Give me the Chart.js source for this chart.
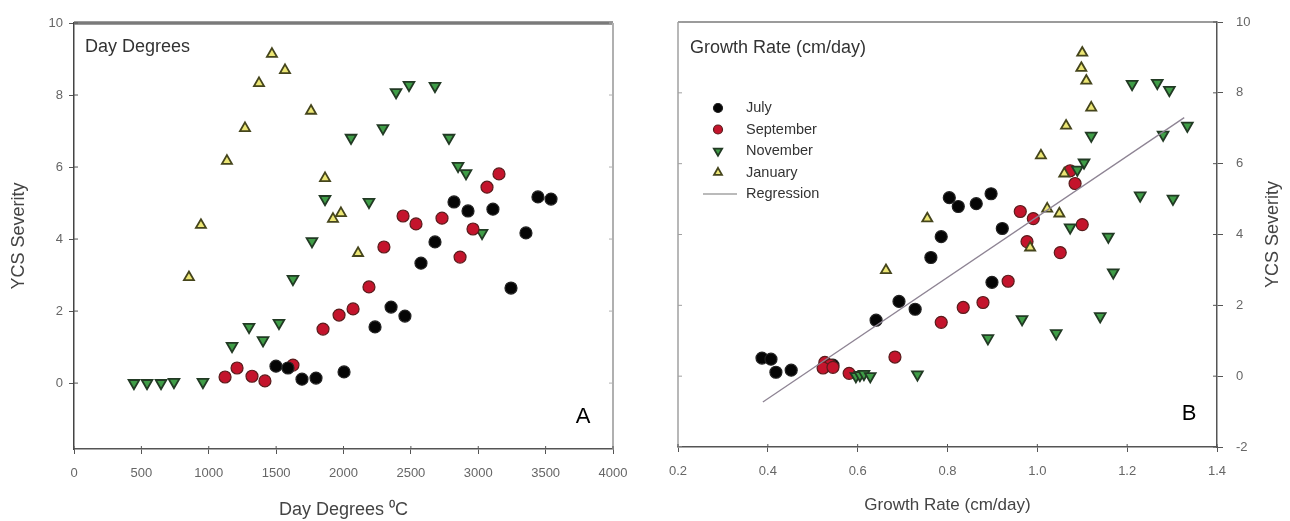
<!DOCTYPE html>
<html><head><meta charset="utf-8">
<script src="https://cdn.jsdelivr.net/npm/chart.js@4"></script>
<style>
html,body{margin:0;padding:0;background:#fff;}
#wrap{position:relative;width:1290px;height:521px;overflow:hidden;}
canvas{position:absolute;top:0;}
</style></head><body>
<div id="wrap">
<canvas id="cA" width="645" height="521" style="left:0;width:645px;height:521px"></canvas>
<canvas id="cB" width="645" height="521" style="left:645px;width:645px;height:521px"></canvas>
</div>
<script>
// ---------- Panel A: Day Degrees ----------
const julyDegrees   = [1499,1588,1692,1796,2004,2234,2353,2456,2575,2679,2820,2924,3109,3243,3354,3443,3540];
const julySevA      = [0.47,0.42,0.11,0.14,0.31,1.56,2.11,1.86,3.33,3.92,5.03,4.78,4.83,2.64,4.17,5.17,5.11];
const septDegrees   = [1121,1210,1321,1417,1625,1848,1967,2071,2189,2300,2442,2538,2731,2865,2961,3065,3154];
const septSevA      = [0.17,0.42,0.19,0.06,0.50,1.50,1.89,2.06,2.67,3.78,4.64,4.42,4.58,3.50,4.28,5.44,5.81];
const novDegrees    = [445,542,646,742,957,1173,1299,1403,1521,1625,1766,1863,2056,2189,2293,2390,2486,2679,2783,2850,2909,3028];
const novSevA       = [0,0,0,0.03,0.03,1.03,1.56,1.19,1.67,2.89,3.94,5.11,6.81,5.03,7.08,8.08,8.28,8.25,6.81,6.03,5.83,4.17];
const janDegrees    = [853,942,1135,1269,1373,1469,1566,1759,1863,1922,1981,2108];
const janSevA       = [2.94,4.39,6.17,7.08,8.33,9.14,8.69,7.56,5.69,4.56,4.72,3.61];

// ---------- Panel B: Growth Rate ----------
const julyRate      = [0.387,0.407,0.418,0.452,0.545,0.641,0.692,0.728,0.763,0.786,0.804,0.824,0.864,0.897,0.922,0.899];
const julySevB      = [0.51,0.48,0.11,0.17,0.31,1.58,2.11,1.89,3.35,3.94,5.04,4.79,4.87,5.15,4.17,2.65];
const septRate      = [0.527,0.539,0.523,0.545,0.581,0.683,0.786,0.835,0.879,0.935,0.977,0.962,0.991,1.051,1.100,1.084,1.073];
const septSevB      = [0.39,0.31,0.23,0.25,0.08,0.54,1.52,1.94,2.08,2.68,3.80,4.65,4.45,3.49,4.28,5.44,5.80];
const novRate       = [0.596,0.605,0.614,0.628,0.733,0.890,0.966,1.042,1.140,1.169,1.158,1.073,1.104,1.089,1.120,1.229,1.302,1.211,1.267,1.294,1.280,1.334];
const novSevB       = [0,0.03,0.06,0,0.05,1.07,1.61,1.21,1.69,2.93,3.94,4.20,6.03,5.83,6.79,5.10,5.01,8.25,8.28,8.08,6.82,7.07];
const janRate       = [0.663,0.755,0.984,1.022,1.049,1.060,1.008,1.064,1.120,1.109,1.098,1.100];
const janSevB       = [2.99,4.45,3.63,4.73,4.59,5.72,6.23,7.07,7.58,8.34,8.70,9.13];
const regRate       = [0.389,1.327];
const regSev        = [-0.73,7.30];

// ---------- ticks / labels ----------
const ticksXA = [0,500,1000,1500,2000,2500,3000,3500,4000];
const ticksYA = [0,2,4,6,8,10];
const ticksXB = [0.2,0.4,0.6,0.8,1.0,1.2,1.4];
const ticksYB = [-2,0,2,4,6,8,10];
const seriesNames = ['July','September','November','January','Regression'];

const FONT = "'Liberation Sans', Arial, sans-serif";
const STY = {
  July:      {bg:'#050505', bd:'#222222', ps:'circle',   r:6,   rot:0,   bw:1.2, lr:4.5},
  September: {bg:'#c4142c', bd:'#5a1c1c', ps:'circle',   r:6,   rot:0,   bw:1.2, lr:4.5},
  November:  {bg:'#3f9d47', bd:'#223a24', ps:'triangle', r:6.2, rot:180, bw:1.8, lr:4.8},
  January:   {bg:'#ece674', bd:'#45451c', ps:'triangle', r:5.8, rot:0,   bw:1.8, lr:4.6}
};
function pts(xs, ys){ return xs.map((x,i)=>({x:x, y:ys[i]})); }
function ds(name, xs, ys, order){
  const s = STY[name];
  return {label:name, data:pts(xs,ys), showLine:false, order:order,
    pointStyle:s.ps, pointRadius:s.r, pointHoverRadius:s.r, pointRotation:s.rot,
    backgroundColor:s.bg, borderColor:s.bd, pointBorderWidth:s.bw};
}
function setTicks(arr){ return function(sc){ sc.ticks = arr.map(v=>({value:v})); }; }

const framePlugin = {
  id:'frame',
  afterDraw(chart, args, o){
    const ctx = chart.ctx, a = chart.chartArea;
    const xs = chart.scales.x, ys = chart.scales.y;
    ctx.save();
    ctx.strokeStyle = o.topColor; ctx.lineWidth = o.topWidth;
    ctx.beginPath(); ctx.moveTo(a.left, a.top); ctx.lineTo(a.right, a.top); ctx.stroke();
    ctx.strokeStyle = o.sideColor; ctx.lineWidth = o.sideWidth;
    const sx = o.side === 'right' ? a.right : a.left;
    ctx.beginPath(); ctx.moveTo(sx, a.top); ctx.lineTo(sx, a.bottom); ctx.stroke();
    ctx.lineWidth = 1; ctx.strokeStyle = o.sideColor;
    ys.ticks.forEach(t=>{
      const py = ys.getPixelForValue(t.value);
      const d = o.side === 'right' ? -4 : 4;
      ctx.beginPath(); ctx.moveTo(sx, py); ctx.lineTo(sx + d, py); ctx.stroke();
    });
    ctx.strokeStyle = '#555';
    const ax = o.side === 'right' ? a.left : a.right;
    ys.ticks.forEach(t=>{
      const py = ys.getPixelForValue(t.value);
      const d = o.side === 'right' ? 4 : -4;
      ctx.beginPath(); ctx.moveTo(ax, py); ctx.lineTo(ax + d, py); ctx.stroke();
    });
    xs.ticks.forEach(t=>{
      const px = xs.getPixelForValue(t.value);
      ctx.beginPath(); ctx.moveTo(px, a.bottom); ctx.lineTo(px, a.bottom - 3); ctx.stroke();
    });
    ctx.fillStyle = '#333'; ctx.font = '18px ' + FONT; ctx.textBaseline = 'middle'; ctx.textAlign = 'left';
    ctx.fillText(o.inner, a.left + o.innerDx, a.top + o.innerDy);
    ctx.fillStyle = '#000'; ctx.font = '22px ' + FONT; ctx.textAlign = 'center';
    ctx.fillText(o.letter, a.right - o.letterDx, a.bottom - o.letterDy);
    if (o.rightTitle) {
      ctx.save();
      ctx.translate(o.rightTitleX, (a.top + a.bottom)/2);
      ctx.rotate(-Math.PI/2);
      ctx.fillStyle = '#444'; ctx.font = '18px ' + FONT; ctx.textAlign = 'center'; ctx.textBaseline = 'middle';
      ctx.fillText(o.rightTitle, 0, 0);
      ctx.restore();
    }
    if (o.legend) {
      const lx = a.left + 40, tx = a.left + 68;
      let ly = a.top + 86;
      ctx.font = '14.5px ' + FONT; ctx.textAlign = 'left'; ctx.textBaseline = 'middle';
      o.legend.forEach(name=>{
        const s = STY[name];
        if (s) {
          ctx.fillStyle = s.bg; ctx.strokeStyle = s.bd; ctx.lineWidth = s.bw;
          ctx.beginPath();
          if (s.ps === 'circle') { ctx.arc(lx, ly, s.lr, 0, Math.PI*2); }
          else {
            let rr = s.rot*Math.PI/180;
            for (let k=0;k<3;k++){ const X = lx + Math.sin(rr)*s.lr, Y = ly - Math.cos(rr)*s.lr; k?ctx.lineTo(X,Y):ctx.moveTo(X,Y); rr += 2*Math.PI/3; }
            ctx.closePath();
          }
          ctx.fill(); ctx.stroke();
        } else {
          ctx.strokeStyle = '#777'; ctx.lineWidth = 1.2;
          ctx.beginPath(); ctx.moveTo(lx - 15, ly); ctx.lineTo(lx + 19, ly); ctx.stroke();
        }
        ctx.fillStyle = '#333';
        ctx.fillText(name, tx, ly);
        ly += 21.5;
      });
    }
    ctx.restore();
  }
};

const tickFont = {family:FONT, size:13};
const titleFont = {family:FONT, size:18};

new Chart(document.getElementById('cA'), {
  type:'scatter',
  data:{datasets:[
    ds('July', julyDegrees, julySevA, 1),
    ds('September', septDegrees, septSevA, 2),
    ds('November', novDegrees, novSevA, 3),
    ds('January', janDegrees, janSevA, 4)
  ]},
  options:{
    responsive:false, animation:false, events:[],
    layout:{padding:{left:0, top:23, right:32, bottom:0}},
    plugins:{legend:{display:false}, tooltip:{enabled:false},
      frame:{topColor:'#7a7a7a', topWidth:3.5, sideColor:'#b0b0b0', sideWidth:2, side:'right',
             inner:'Day Degrees', innerDx:11, innerDy:24, letter:'A', letterDx:30, letterDy:32}},
    scales:{
      x:{type:'linear', min:0, max:4000, afterBuildTicks:setTicks(ticksXA),
         afterFit(s){ s.height = 72; },
         grid:{drawOnChartArea:false, tickLength:5, color:'#555', lineWidth:1},
         border:{color:'#555', width:1.5},
         ticks:{font:tickFont, color:'#666', padding:12, maxRotation:0, callback:v=>String(v)},
         title:{display:true, text:'Day Degrees \u2070C', font:titleFont, color:'#444', padding:{bottom:0, top:0}}},
      y:{type:'linear', min:-1.83, max:10, afterBuildTicks:setTicks(ticksYA),
         afterFit(s){ s.width = 74; },
         grid:{drawOnChartArea:false, tickLength:5, color:'#555', lineWidth:1},
         border:{color:'#444', width:1.5},
         ticks:{font:tickFont, color:'#666', padding:6, callback:v=>String(v)},
         title:{display:true, text:'YCS Severity', font:titleFont, color:'#444', padding:{top:8, bottom:0}}}
    }
  },
  plugins:[framePlugin]
});

const regDs = {label:'Regression', type:'line', data:pts(regRate, regSev), order:0,
  borderColor:'#8e8494', borderWidth:1.3, pointRadius:0, fill:false, tension:0};
new Chart(document.getElementById('cB'), {
  type:'scatter',
  data:{datasets:[
    regDs,
    ds('July', julyRate, julySevB, 4),
    ds('September', septRate, septSevB, 3),
    ds('November', novRate, novSevB, 2),
    ds('January', janRate, janSevB, 1)
  ]},
  options:{
    responsive:false, animation:false, events:[],
    layout:{padding:{left:33, top:22, right:0, bottom:0}},
    plugins:{legend:{display:false}, tooltip:{enabled:false},
      frame:{topColor:'#7a7a7a', topWidth:1.5, sideColor:'#a0a0a0', sideWidth:1.5, side:'left',
             inner:'Growth Rate (cm/day)', innerDx:12, innerDy:26, letter:'B', letterDx:28, letterDy:33,
             rightTitle:'YCS Severity', rightTitleX:628, legend:seriesNames}},
    scales:{
      x:{type:'linear', min:0.2, max:1.4, afterBuildTicks:setTicks(ticksXB),
         afterFit(s){ s.height = 74; },
         grid:{drawOnChartArea:false, tickLength:5, color:'#555', lineWidth:1},
         border:{color:'#555', width:1.5},
         ticks:{font:tickFont, color:'#666', padding:12, maxRotation:0, callback:v=>Number(v).toFixed(1)},
         title:{display:true, text:'Growth Rate (cm/day)', font:{family:FONT, size:17}, color:'#444', padding:{bottom:5, top:0}}},
      y:{type:'linear', position:'right', min:-2, max:10, afterBuildTicks:setTicks(ticksYB),
         afterFit(s){ s.width = 73; },
         grid:{drawOnChartArea:false, tickLength:6, color:'#555', lineWidth:1},
         border:{color:'#555', width:1.5},
         ticks:{font:tickFont, color:'#666', padding:13, callback:v=>String(v)},
         title:{display:false}}
    }
  },
  plugins:[framePlugin]
});
</script>
</body></html>
